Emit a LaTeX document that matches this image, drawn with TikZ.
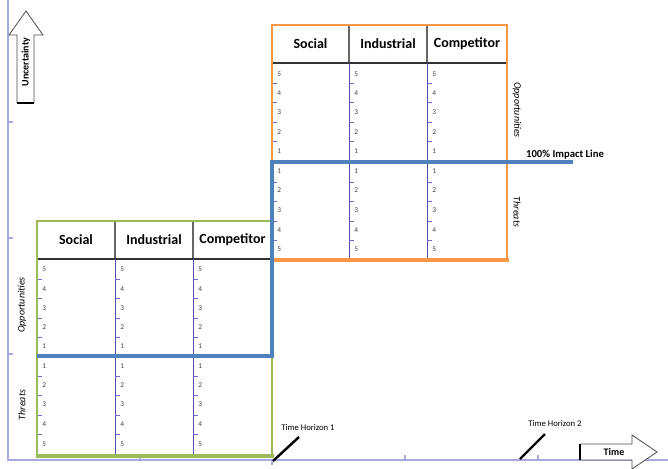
\documentclass[tikz,border=0pt]{standalone}
\usepackage{fontspec}
\setmainfont{Carlito}
\definecolor{orangeB}{HTML}{F79646}
\definecolor{greenB}{HTML}{9BBB59}
\definecolor{blueL}{HTML}{4F81BD}
\definecolor{axisC}{HTML}{A8A8E0}
\definecolor{colC}{HTML}{4F4FA8}
\definecolor{tickC}{HTML}{6A6AD8}
\begin{document}
\begin{tikzpicture}[x=0.75pt,y=-0.75pt,
  hdr/.style={font=\bfseries\fontsize{10.5}{12}\selectfont},
  num/.style={font=\fontsize{5.5}{6}\selectfont, text=black!75, inner sep=0pt},
  side/.style={font=\itshape\fontsize{7.5}{9}\selectfont, inner sep=0pt},
  small/.style={font=\fontsize{6.5}{8}\selectfont, inner sep=0pt},
  colline/.style={draw=colC, line width=0.75pt},
  tickl/.style={draw=tickC, line width=0.7pt},
  axis/.style={draw=axisC, line width=1pt}]
\useasboundingbox (0,0) rectangle (668,468);
\fill[white] (0,0) rectangle (668,468);

% axes
\draw[axis] (8,0) -- (8,460) -- (668,460);
\foreach \yy in {122,238,354} \draw[axis] (8,\yy) -- (13,\yy);
\foreach \xx in {140,405,538} \draw[axis] (\xx,455) -- (\xx,460);
\draw[axis] (272,460) -- (272,465);

% Uncertainty arrow
\draw[black!70, line width=0.6pt, fill=white] (17,103) -- (17,35) -- (9,35) -- (26,11) -- (43,35) -- (34,35) -- (34,103);
\draw[black, line width=2pt] (17,103) -- (34,103);
\node[rotate=90, font=\bfseries\fontsize{7.5}{9}\selectfont, inner sep=0pt] (unc) at (26,62) {Uncertainty};

% Time arrow
\draw[black!70, line width=0.6pt, fill=white] (580,444) -- (632,444) -- (632,435) -- (657,452) -- (632,469) -- (632,460) -- (580,460);
\draw[black, line width=2pt] (580,444) -- (580,460);
\node[font=\bfseries\fontsize{7.5}{9}\selectfont, inner sep=0pt] (time) at (614,452) {Time};

% time horizons
\draw[black, line width=1.8pt] (273,461) -- (299,437);
\node[small] (th1) at (308,428) {Time Horizon 1};
\draw[black, line width=1.8pt] (520,459) -- (545,434);
\node[small] (th2) at (555,424) {Time Horizon 2};

% ---------- upper table ----------
\fill[white] (272,25) rectangle (507,260);
\draw[black!60, line width=0.8pt] (349,25) -- (349,63) (427,25) -- (427,63);
\draw[black!80, line width=0.8pt] (272,63) -- (507,63);
\draw[colline] (349,63) -- (349,260) (427,63) -- (427,260);
\foreach \xx in {272,349,427}{
  \foreach \yy in {83,102,122,141,182,201,221,240} \draw[tickl] (\xx,\yy) -- (\xx+5,\yy);
  \foreach \n/\yy in {5/74,4/93,3/112,2/132,1/151} \node[num, anchor=west] at (\xx+5,\yy) {\n};
  \foreach \n/\yy in {1/171,2/190,3/210,4/230,5/249} \node[num, anchor=west] at (\xx+5,\yy) {\n};
}
\draw[orangeB, line width=1.8pt] (272,25) rectangle (507,260);
\draw[orangeB, line width=3pt] (270,260) -- (508.5,260);
\node[hdr] (us) at (310.5,44) {Social};
\node[hdr] (ui) at (388,44) {Industrial};
\node[hdr] (uc) at (467,44) {Competitor};
\node[side, rotate=-90] (uo) at (517,110) {Opportunities};
\node[side, rotate=-90] (ut) at (517,212) {Threats};

% ---------- lower table ----------
\fill[white] (37,221) rectangle (272,456);
\draw[black!60, line width=0.8pt] (115,221) -- (115,259) (193,221) -- (193,259);
\draw[black!80, line width=0.8pt] (37,259) -- (272,259);
\draw[colline] (115,259) -- (115,456) (193,259) -- (193,456);
\foreach \xx in {37,115,193}{
  \foreach \yy in {279,298,318,337,376,395,415,434} \draw[tickl] (\xx,\yy) -- (\xx+5,\yy);
  \foreach \n/\yy in {5/269,4/289,3/308,2/327,1/346} \node[num, anchor=west] at (\xx+5,\yy) {\n};
  \foreach \n/\yy in {1/366,2/385,3/404,4/424,5/444} \node[num, anchor=west] at (\xx+5,\yy) {\n};
}
\draw[greenB, line width=1.8pt] (37,221) rectangle (272,456);
\draw[greenB, line width=3pt] (35.5,456) -- (273.5,456);
\node[hdr] (ls) at (76,240) {Social};
\node[hdr] (li) at (154,240) {Industrial};
\node[hdr] (lc) at (232.5,240) {Competitor};
\node[side, rotate=90] (lo) at (22,305) {Opportunities};
\node[side, rotate=90] (lt) at (22,405) {Threats};

% impact line
\draw[blueL, line width=2.6pt] (37,356) -- (272,356) -- (272,162) -- (573,162);
\node[font=\bfseries\fontsize{8}{9}\selectfont, inner sep=0pt] (imp) at (565,155) {100\% Impact Line};
\end{tikzpicture}
\end{document}
